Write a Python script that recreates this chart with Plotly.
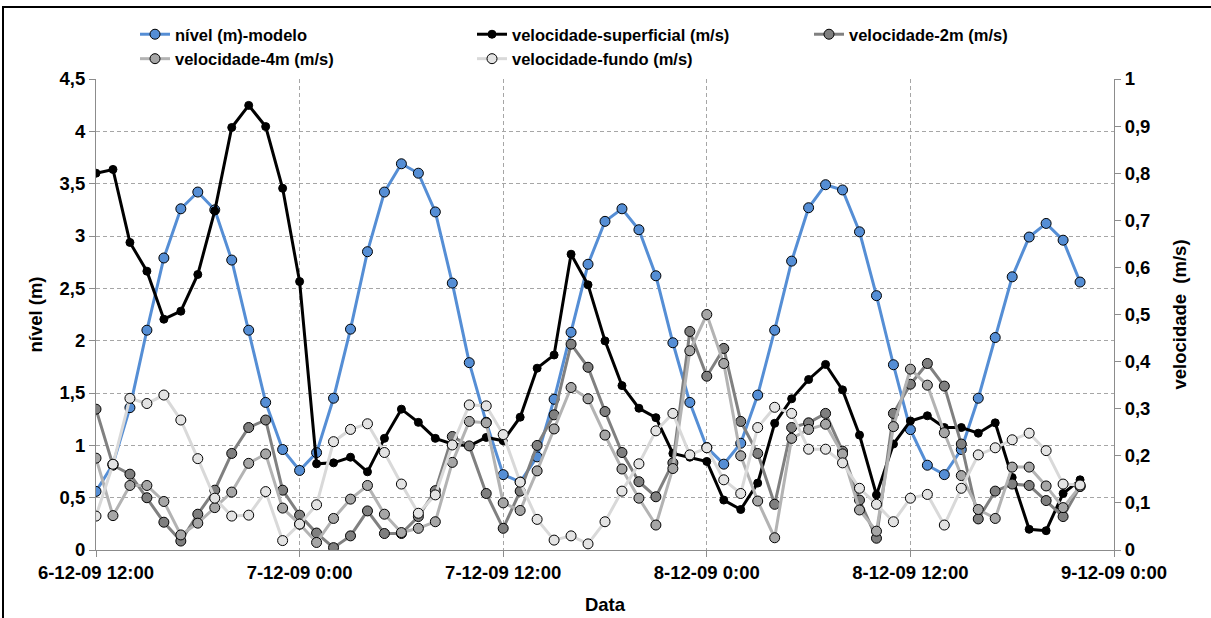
import pandas as pd
import plotly.graph_objects as go

# hourly series starting 6-12-2009 12:00
horas = pd.date_range("2009-12-06 12:00", periods=59, freq="h")

nivel = [0.56, 0.82, 1.36, 2.10, 2.79, 3.26, 3.42, 3.25, 2.77, 2.10,
         1.41, 0.96, 0.76, 0.93, 1.45, 2.11, 2.85, 3.42, 3.69, 3.60,
         3.23, 2.55, 1.79, 1.22, 0.72, 0.65, 0.89, 1.44, 2.08, 2.73,
         3.14, 3.26, 3.06, 2.62, 1.98, 1.41, 0.98, 0.82, 1.02, 1.48,
         2.10, 2.76, 3.27, 3.49, 3.44, 3.04, 2.43, 1.77, 1.15, 0.81,
         0.72, 0.96, 1.45, 2.03, 2.61, 2.99, 3.12, 2.96, 2.56]

vel_superficial = [0.800, 0.808, 0.653, 0.592, 0.490, 0.507, 0.585, 0.720, 0.897, 0.944,
                   0.899, 0.768, 0.570, 0.183, 0.185, 0.197, 0.166, 0.237, 0.299, 0.271,
                   0.237, 0.225, 0.221, 0.239, 0.232, 0.282, 0.386, 0.414, 0.628, 0.563,
                   0.444, 0.349, 0.301, 0.281, 0.205, 0.197, 0.188, 0.106, 0.086, 0.142,
                   0.269, 0.321, 0.362, 0.394, 0.340, 0.244, 0.117, 0.225, 0.274, 0.285,
                   0.260, 0.260, 0.248, 0.270, 0.154, 0.044, 0.041, 0.120, 0.149]

vel_2m = [0.299, 0.180, 0.161, 0.111, 0.059, 0.019, 0.076, 0.127, 0.205, 0.260,
          0.276, 0.127, 0.074, 0.036, 0.005, 0.030, 0.083, 0.035, 0.035, 0.071,
          0.126, 0.241, 0.221, 0.120, 0.046, 0.125, 0.222, 0.287, 0.437, 0.388,
          0.294, 0.207, 0.145, 0.113, 0.185, 0.464, 0.369, 0.428, 0.273, 0.205,
          0.097, 0.260, 0.270, 0.290, 0.210, 0.106, 0.025, 0.290, 0.352, 0.396,
          0.348, 0.225, 0.066, 0.125, 0.140, 0.137, 0.105, 0.071, 0.135]

vel_4m = [0.195, 0.073, 0.137, 0.137, 0.103, 0.032, 0.057, 0.090, 0.123, 0.184,
          0.204, 0.089, 0.055, 0.016, 0.067, 0.108, 0.137, 0.076, 0.037, 0.046,
          0.060, 0.186, 0.273, 0.270, 0.100, 0.084, 0.168, 0.257, 0.345, 0.321,
          0.244, 0.172, 0.110, 0.053, 0.173, 0.423, 0.500, 0.396, 0.200, 0.104,
          0.026, 0.237, 0.256, 0.267, 0.204, 0.085, 0.040, 0.262, 0.384, 0.350,
          0.249, 0.158, 0.086, 0.067, 0.176, 0.176, 0.136, 0.090, 0.135]

vel_fundo = [0.072, 0.182, 0.322, 0.311, 0.329, 0.276, 0.194, 0.110, 0.072, 0.074,
             0.124, 0.020, 0.055, 0.096, 0.230, 0.256, 0.268, 0.207, 0.140, 0.078,
             0.117, 0.223, 0.308, 0.306, 0.245, 0.144, 0.065, 0.021, 0.030, 0.013,
             0.060, 0.125, 0.183, 0.253, 0.290, 0.202, 0.217, 0.149, 0.120, 0.260,
             0.303, 0.290, 0.214, 0.214, 0.185, 0.131, 0.097, 0.060, 0.110, 0.118,
             0.053, 0.131, 0.202, 0.217, 0.234, 0.248, 0.211, 0.140, 0.138]

FONT = "Liberation Sans, Arial, sans-serif"
GRID = "#A6A6A6"
AXIS = "#8C8C8C"
TICK_SIZE = 18.5

series = [
    ("nível (m)-modelo", nivel, "y", "#558ED5", "#558ED5", 10),
    ("velocidade-superficial (m/s)", vel_superficial, "y2", "#000000", "#000000", 8),
    ("velocidade-2m (m/s)", vel_2m, "y2", "#808080", "#7F7F7F", 10),
    ("velocidade-4m (m/s)", vel_4m, "y2", "#B3B3B3", "#A6A6A6", 10),
    ("velocidade-fundo (m/s)", vel_fundo, "y2", "#D9D9D9", "#E3E3E3", 10),
]

fig = go.Figure()
for nome, valores, eixo, cor_linha, cor_marca, tam in series:
    fig.add_trace(go.Scatter(
        x=horas, y=valores, name=nome, yaxis=eixo, mode="lines+markers",
        line=dict(color=cor_linha, width=3),
        marker=dict(symbol="circle", size=tam, color=cor_marca,
                    line=dict(color="#000000", width=1)),
    ))

W, H = 1211, 618
L, R, T, B = 96, 97, 79, 68
pw, ph = W - L - R, H - T - B

def px_x(p):
    return (p - L) / pw

def px_y(p):
    return (H - B - p) / ph

fig.update_layout(
    width=W, height=H,
    margin=dict(l=L, r=R, t=T, b=B, autoexpand=False),
    paper_bgcolor="white", plot_bgcolor="white",
    separators=",.",
    font=dict(family=FONT, size=17, color="#000000", weight="bold"),
    showlegend=True,
    legend=dict(
        orientation="h", x=px_x(135), y=px_y(17), xanchor="left", yanchor="top",
        entrywidth=292, entrywidthmode="pixels",
        font=dict(family=FONT, size=16.5, color="#000000", weight="bold"),
        bgcolor="rgba(0,0,0,0)", tracegroupgap=0,
    ),
    xaxis=dict(
        type="date", automargin=False,
        range=["2009-12-06 12:00", "2009-12-09 00:00"],
        tick0="2009-12-06 12:00", dtick=12 * 3600 * 1000,
        tickformat="%-d-%m-%y %-H:%M",
        showgrid=True, gridcolor=GRID, griddash="4px,3px", gridwidth=1,
        showline=True, linecolor=AXIS, linewidth=1,
        ticks="outside", ticklen=6, tickcolor=AXIS,
        tickfont=dict(size=TICK_SIZE, weight="bold"),
        title=dict(text="Data", font=dict(size=TICK_SIZE, weight="bold"), standoff=15),
        zeroline=False,
    ),
    yaxis=dict(
        automargin=False,
        range=[0, 4.5], dtick=0.5, tick0=0,
        showgrid=True, gridcolor=GRID, griddash="4px,3px", gridwidth=1,
        showline=True, linecolor=AXIS, linewidth=1,
        ticks="outside", ticklen=6, tickcolor=AXIS,
        tickfont=dict(size=TICK_SIZE, weight="bold"),
        title=dict(text="nível (m)", font=dict(size=TICK_SIZE, weight="bold"), standoff=12),
        zeroline=False,
    ),
    yaxis2=dict(
        overlaying="y", side="right", automargin=False,
        range=[0, 1], dtick=0.1, tick0=0,
        showgrid=False,
        showline=True, linecolor=AXIS, linewidth=1,
        ticks="outside", ticklen=6, tickcolor=AXIS,
        tickfont=dict(size=TICK_SIZE, weight="bold"),
        title=dict(text="velocidade  (m/s)", font=dict(size=TICK_SIZE, weight="bold"), standoff=22),
        zeroline=False,
    ),
)

# outer frame of the chart
fig.add_shape(type="rect", xref="paper", yref="paper",
              x0=px_x(3), x1=px_x(1240), y0=px_y(650), y1=px_y(7),
              line=dict(color="#000000", width=2), fillcolor="rgba(0,0,0,0)",
              layer="below")

fig.write_html("out.html")
